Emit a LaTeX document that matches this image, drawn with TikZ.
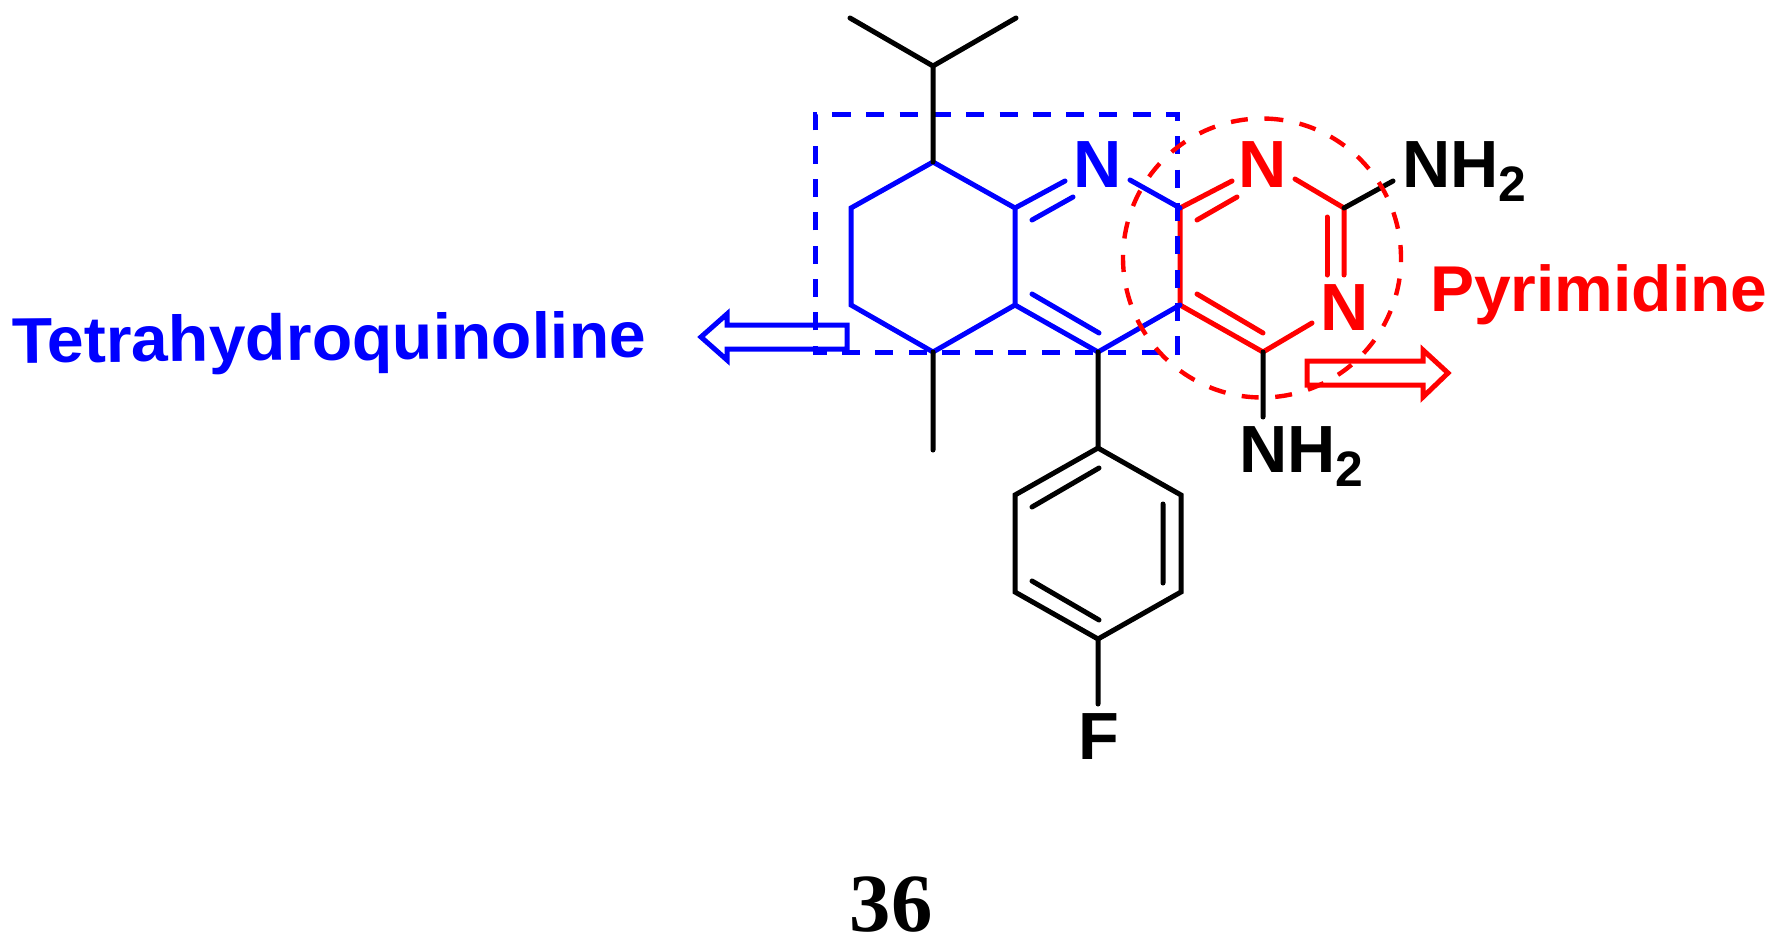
\documentclass[tikz,border=0pt]{standalone}
\usepackage{graphicx}
\usepackage{fontspec}
\setmainfont{Liberation Sans}
\newfontfamily\serifbf{Liberation Serif}
\definecolor{mblue}{RGB}{0,0,255}
\definecolor{mred}{RGB}{255,0,0}
\newcommand{\atomfont}{\fontsize{67}{67}\selectfont\bfseries}
\newcommand{\subtwo}{\raisebox{-14bp}{\fontsize{50}{50}\selectfont\bfseries 2}}
\tikzset{
  bond/.style={line width=5bp,line cap=round,line join=miter},
  blackbond/.style={bond,black},
  bluebond/.style={bond,mblue},
  redbond/.style={bond,mred},
  atom/.style={inner sep=0pt,outer sep=0pt,anchor=base west,font=\atomfont},
  boxdash/.style={line width=5bp,mblue,dash pattern=on 18bp off 15.3bp},
  circdash/.style={line width=4.4bp,mred,dash pattern=on 17bp off 16.57bp},
  hollow/.style={line width=5bp,fill=none,line join=miter},
  labelfont/.style={font=\fontsize{65}{65}\selectfont\bfseries},
}
\begin{document}
\begin{tikzpicture}[x=1bp,y=-1bp]
\useasboundingbox (0,0) rectangle (1776,944);
% atoms of the skeleton
\foreach \n/\x/\y in {
 me1/850/18, ipr/933/66, me2/1016/18, c8/933/162, c7/851/208, c6/851/305, c5/933/352,
 c4a/1015/305, c8a/1015/208, c4/1098/352, c3/1180/305, c2/1180/208, me5/933/450,
 nL/1065/181, nLi/1073/197, c8ai/1032/220, c4ai/1032/294, c4i/1099/333, nR/1130/180,
 n1a/1232/181, n1b/1295/179, c2pi/1197/220, n1i/1237/197, cq/1344/208, nh2a/1393/181,
 n3a/1344/275, n3i/1327/275, cqi/1327/217, n3b/1312/323, c4p/1263/352, c3pi/1197/294,
 c4pi/1263/333, nh2b/1263/417, ph1/1098/448, ph2/1015/495, ph3/1015/592, ph4/1098/639,
 ph5/1181/592, ph6/1181/495, phi1a/1032/507, phi1b/1099/468, phi2a/1163/504,
 phi2b/1163/583, phi3a/1032/581, phi3b/1099/620, fb/1098/704,
 rs/833/114, ra/815/114, rb/1177/114, rc/1177/352, rd/815/352}
 {\coordinate (\n) at (\x,\y);}
% red pyrimidine
\draw[redbond] (c2) -- (c3) -- (c4p) -- (n3b);
\draw[redbond] (c2) -- (n1a);
\draw[redbond] (c2pi) -- (n1i);
\draw[redbond] (n1b) -- (cq) -- (n3a);
\draw[redbond] (cqi) -- (n3i);
\draw[redbond] (c3pi) -- (c4pi);
% dashed box
\draw[boxdash] (rs) -- (rb) -- (rc) -- (rd) -- (ra) -- (rs);
% blue ring
\draw[bluebond] (c8) -- (c7) -- (c6) -- (c5) -- (c4a) -- (c8a) -- (c8) (c8a) -- (nL)
  (c8ai) -- (nLi) (c4a) -- (c4) -- (c3) (c4ai) -- (c4i) (nR) -- (c2);
% black bonds
\draw[blackbond] (me1) -- (ipr) -- (me2) (ipr) -- (c8) (c5) -- (me5) (c4) -- (ph1)
  (cq) -- (nh2a) (c4p) -- (nh2b) (ph4) -- (fb);
\draw[blackbond] (ph1) -- (ph2) -- (ph3) -- (ph4) -- (ph5) -- (ph6) -- cycle;
\draw[blackbond] (phi1a) -- (phi1b) (phi2a) -- (phi2b) (phi3a) -- (phi3b);
% dashed circle
\draw[circdash] plot[domain=1.8:361.8,samples=181,smooth] ({1262+139*sin(\x)},{258-139.5*cos(\x)});
% hollow arrows
\draw[hollow,mblue] (847,325) -- (727,325) -- (727,314) -- (701,337) -- (727,360) -- (727,349) -- (847,349) -- cycle;
\draw[hollow,mred] (1307,361) -- (1423,361) -- (1423,350) -- (1448,373) -- (1423,397) -- (1423,385) -- (1307,385) -- cycle;
% labels
\node[atom,text=mblue] (N1) at (1073,187) {N};
\node[atom,text=mred] (N2) at (1238,187) {N};
\node[atom,text=mred] (N3) at (1320,330) {N};
\node[atom] (NH2a) at (1402,187) {NH\subtwo};
\node[atom] (NH2b) at (1239,472) {NH\subtwo};
\node[atom] (F) at (1078,759) {F};
\node[atom,text=mblue,labelfont,rotate=0.5] (thq) at (12,363) {\scalebox{1.021}[1]{Tetrahydroquinoline}};
\node[atom,text=mred,labelfont] (pyr) at (1430,311) {\scalebox{1.019}[1]{Pyrimidine}};
\node[inner sep=0pt,anchor=base,font=\serifbf\fontsize{83}{83}\selectfont\bfseries] (cpd) at (891,931) {36};
\end{tikzpicture}
\end{document}
